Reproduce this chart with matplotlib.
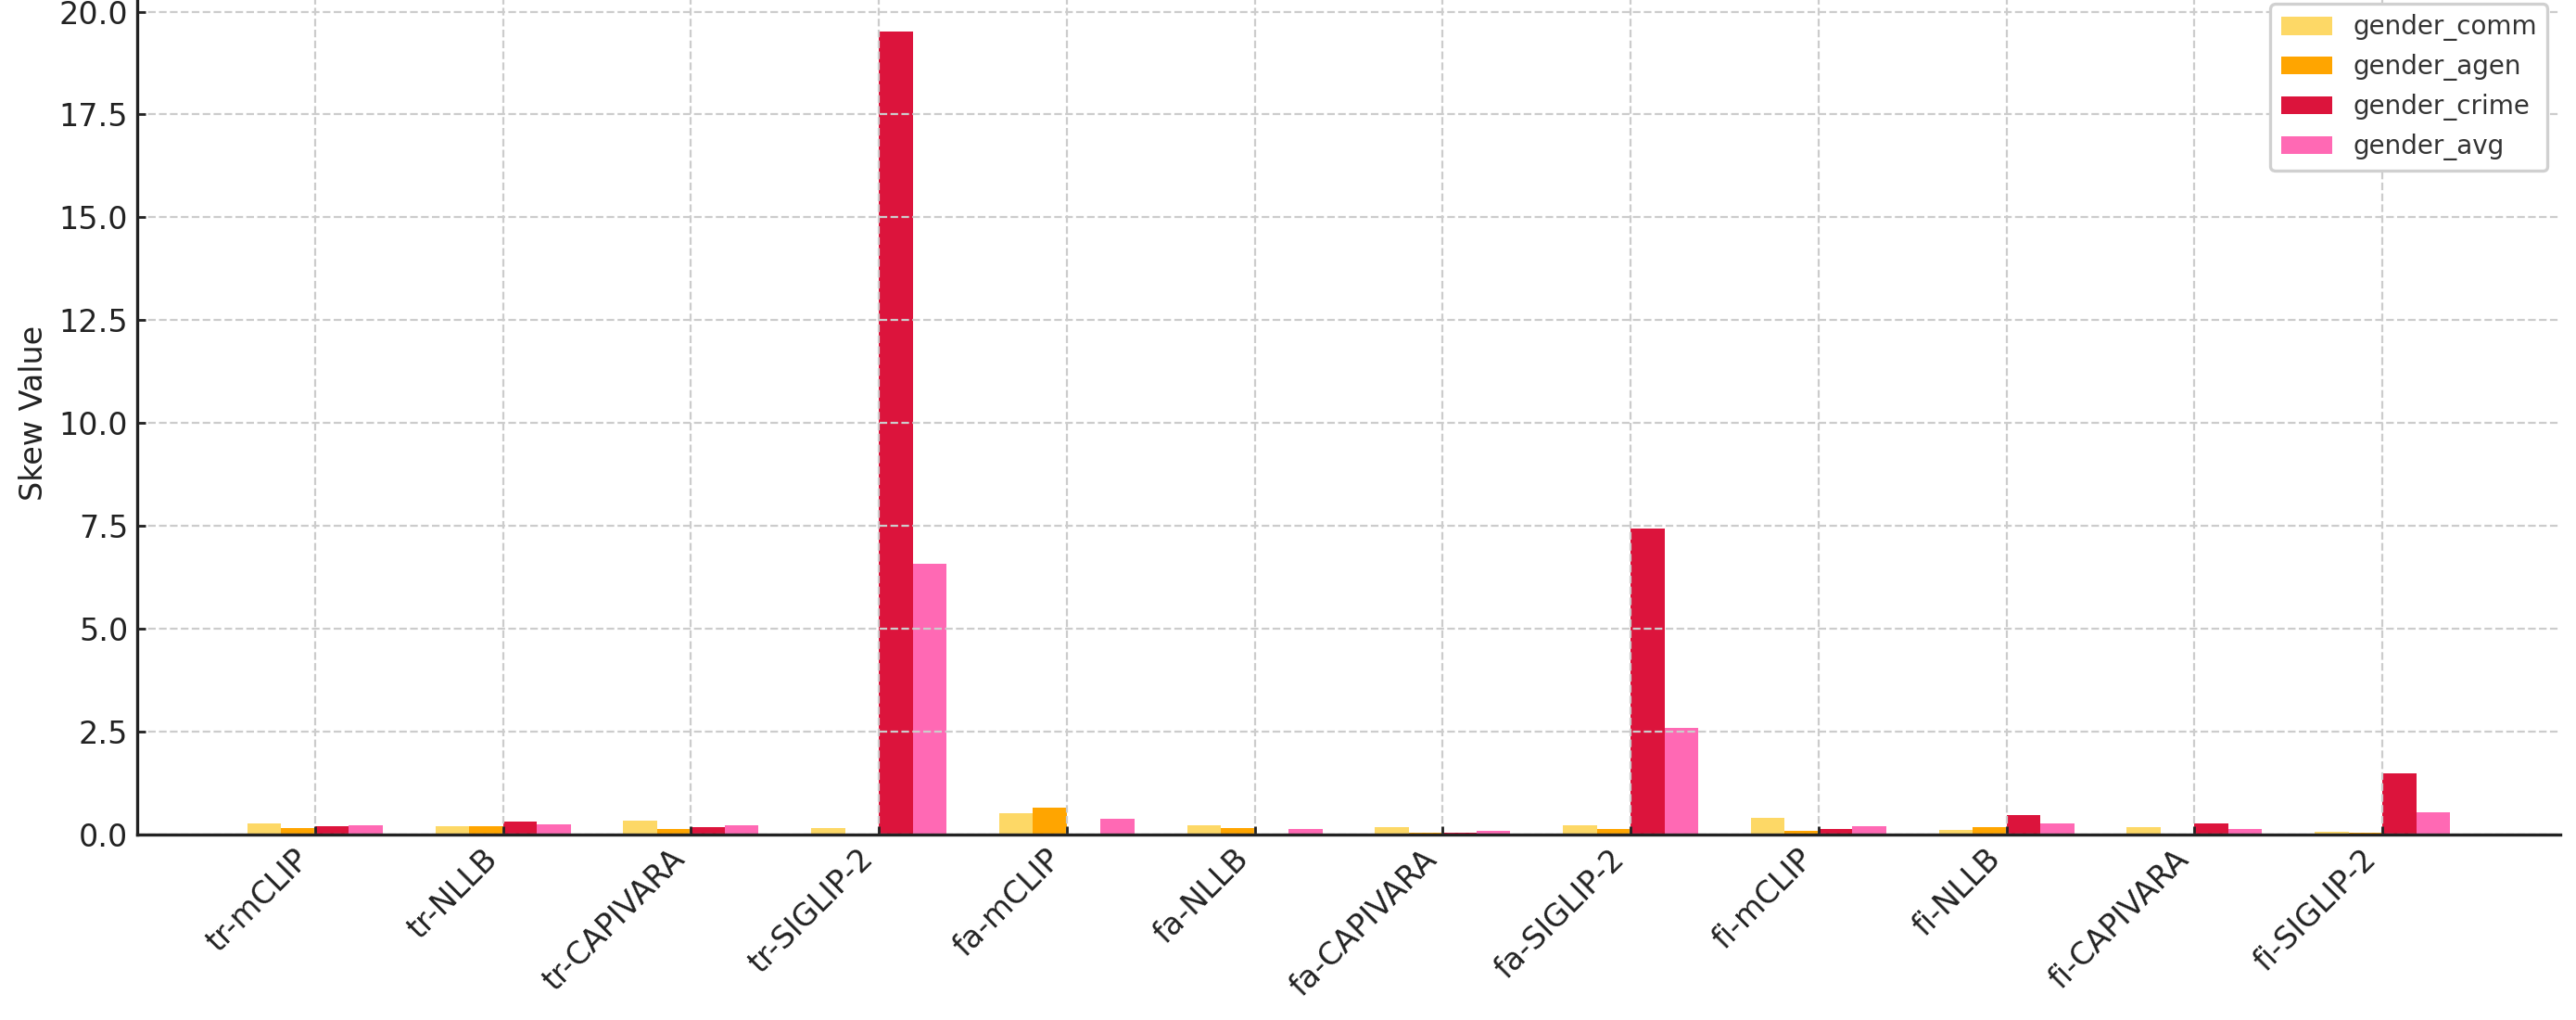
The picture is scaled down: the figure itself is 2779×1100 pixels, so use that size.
import numpy as np
import matplotlib
matplotlib.use("Agg")
import matplotlib.pyplot as plt

# model / language combinations
labels = ["tr-mCLIP", "tr-NLLB", "tr-CAPIVARA", "tr-SIGLIP-2",
          "fa-mCLIP", "fa-NLLB", "fa-CAPIVARA", "fa-SIGLIP-2",
          "fi-mCLIP", "fi-NLLB", "fi-CAPIVARA", "fi-SIGLIP-2"]

# skew values per dimension
gender_comm = [0.27, 0.20, 0.34, 0.16, 0.52, 0.23, 0.18, 0.23, 0.41, 0.12, 0.19, 0.075]
gender_agen = [0.16, 0.20, 0.14, 0.0, 0.655, 0.16, 0.045, 0.14, 0.10, 0.17, 0.0, 0.05]
gender_crime = [0.20, 0.32, 0.18, 19.52, 0.0, 0.02, 0.045, 7.43, 0.14, 0.48, 0.26, 1.48]
gender_avg = [0.23, 0.25, 0.23, 6.58, 0.38, 0.14, 0.09, 2.60, 0.21, 0.26, 0.14, 0.53]

series = [("gender_comm", gender_comm, "#FDD866"),
          ("gender_agen", gender_agen, "#FFA500"),
          ("gender_crime", gender_crime, "#DC143C"),
          ("gender_avg", gender_avg, "#FF69B4")]

plt.rcParams["font.family"] = ["DejaVu Sans"]
plt.rcParams["axes.edgecolor"] = "#222222"
plt.rcParams["xtick.color"] = "#222222"
plt.rcParams["ytick.color"] = "#222222"

fig = plt.figure(figsize=(2779 / 200, 1100 / 200), dpi=200)
ax = fig.add_axes([148 / 2779, 200 / 1100, 2614 / 2779, 909.5 / 1100])

x = np.arange(len(labels))
width = 0.18
for i, (name, vals, color) in enumerate(series):
    ax.bar(x + (i - 1.5) * width, vals, width, label=name, color=color)

ax.set_xticks(x)
ax.set_xticklabels(labels, rotation=45, ha="right", fontsize=12)
ax.tick_params(axis="y", labelsize=12)
ax.tick_params(direction="in", length=3.2, width=1.0)
ax.set_ylabel("Skew Value", fontsize=12, color="#222222")

ax.grid(True, linestyle="--", color="#cccccc", linewidth=0.8)
for side in ["top", "right"]:
    ax.spines[side].set_visible(False)
for side in ["left", "bottom"]:
    ax.spines[side].set_linewidth(1.2)

leg = ax.legend(loc="upper right", fontsize=10, fancybox=True, framealpha=1.0)
leg.get_frame().set_edgecolor("#d0d0d0")
leg.get_frame().set_linewidth(1.2)
for t in leg.get_texts():
    t.set_color("#333333")

plt.savefig("out.png", dpi=200)
